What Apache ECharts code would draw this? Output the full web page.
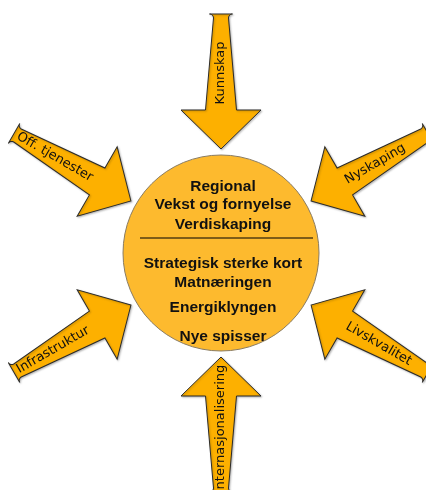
<!DOCTYPE html>
<html lang="no">
<head>
    <meta charset="UTF-8">
    <title>Regional vekst</title>
    <script src="https://cdn.jsdelivr.net/npm/echarts@6/dist/echarts.min.js"></script>
    <style>
        html, body { margin: 0; padding: 0; background: #fff; }
        #main { width: 426px; height: 490px; }
    </style>
</head>
<body>
<div id="main"></div>
<script>
    // innhold
    var arrowLabels = ['Kunnskap', 'Nyskaping', 'Livskvalitet', 'Internasjonalisering', 'Infrastruktur', 'Off. tjenester'];
    var arrowAngles = [90, 30, -30, -90, -150, 150];   // retning ut fra sentrum, grader
    var topLines = ['Regional', 'Vekst og fornyelse', 'Verdiskaping'];
    var bottomLines = ['Strategisk sterke kort', 'Matnæringen', 'Energiklyngen', 'Nye spisser'];

    // layout
    var CX = 221, CY = 253, R = 98;
    var TIP_DIST = 104, ARROW_LEN = 135, HEAD_LEN = 39, HEAD_HALF = 40, SHAFT_HALF = 15.5, CORNER = 4;
    var labelOffsets = [76, 74, 78, 72, 90, 88];
    var topY = [-66, -48, -28];
    var bottomY = [11, 30, 55, 84];
    var lineYOff = -15;

    var ARROW_COLOR = '#fdb000';
    var CIRCLE_COLOR = '#fdba2e';

    function arrowPoints() {
        var pts = [[0, 0], [-HEAD_LEN, -HEAD_HALF], [-HEAD_LEN, -SHAFT_HALF]];
        // avrundet hale
        var corners = [[-ARROW_LEN + CORNER, -SHAFT_HALF + CORNER, -Math.PI / 2, -Math.PI],
                       [-ARROW_LEN + CORNER, SHAFT_HALF - CORNER, -Math.PI, -1.5 * Math.PI]];
        corners.forEach(function (c) {
            for (var k = 0; k <= 6; k++) {
                var a = c[2] + (c[3] - c[2]) * k / 6;
                pts.push([c[0] + CORNER * Math.cos(a), c[1] - CORNER * Math.sin(a)]);
            }
        });
        pts.push([-HEAD_LEN, SHAFT_HALF], [-HEAD_LEN, HEAD_HALF]);
        return pts;
    }

    var centerData = [];
    topLines.forEach(function (t, i) { centerData.push([CX + 2, CY + topY[i]]); });
    bottomLines.forEach(function (t, i) { centerData.push([CX + 2, CY + bottomY[i]]); });
    var centerText = topLines.concat(bottomLines);

    var myChart = echarts.init(document.getElementById('main'));
    var option = {
        animation: false,
        backgroundColor: '#fff',
        grid: {left: 0, right: 0, top: 0, bottom: 0},
        xAxis: {type: 'value', min: 0, max: 426, show: false},
        yAxis: {type: 'value', min: 0, max: 490, inverse: true, show: false},
        series: [
            {
                // sirkel + skillelinje
                type: 'custom',
                data: [[CX, CY]],
                renderItem: function (params, api) {
                    var c = api.coord([api.value(0), api.value(1)]);
                    var edge = api.coord([api.value(0) + R, api.value(1)]);
                    var l1 = api.coord([CX - 81, CY + lineYOff]);
                    var l2 = api.coord([CX + 92, CY + lineYOff]);
                    return {
                        type: 'group',
                        children: [
                            {
                                type: 'circle',
                                shape: {cx: c[0], cy: c[1], r: edge[0] - c[0]},
                                style: {fill: CIRCLE_COLOR, stroke: '#8a7c62', lineWidth: 1}
                            },
                            {
                                type: 'line',
                                shape: {x1: l1[0], y1: l1[1], x2: l2[0], y2: l2[1]},
                                style: {stroke: '#000', lineWidth: 1}
                            }
                        ]
                    };
                }
            },
            {
                // tekst i sirkelen
                type: 'custom',
                data: centerData,
                renderItem: function (params, api) {
                    var p = api.coord([api.value(0), api.value(1)]);
                    return {
                        type: 'text',
                        x: p[0], y: p[1],
                        style: {
                            text: centerText[params.dataIndex],
                            fill: '#111',
                            font: 'bold 15.5px "Liberation Sans", Arial, sans-serif',
                            align: 'center',
                            verticalAlign: 'middle'
                        }
                    };
                }
            },
            {
                // piler
                type: 'custom',
                data: arrowAngles.map(function (a) { return [a]; }),
                renderItem: function (params, api) {
                    var ang = api.value(0) * Math.PI / 180;
                    var tip = api.coord([CX + TIP_DIST * Math.cos(ang), CY - TIP_DIST * Math.sin(ang)]);
                    var phi = ang + Math.PI;
                    var deg = ((phi * 180 / Math.PI) % 360 + 360) % 360;
                    var flip = deg > 90 && deg <= 270;
                    return {
                        type: 'group',
                        x: tip[0], y: tip[1],
                        rotation: phi,
                        children: [
                            {
                                type: 'polygon',
                                shape: {points: arrowPoints()},
                                style: {
                                    fill: ARROW_COLOR, stroke: '#2b2b2b', lineWidth: 1,
                                    shadowBlur: 2, shadowColor: 'rgba(0,0,0,0.25)', shadowOffsetX: 1, shadowOffsetY: 1
                                }
                            },
                            {
                                type: 'text',
                                x: -labelOffsets[params.dataIndex], y: 0,
                                rotation: flip ? Math.PI : 0,
                                style: {
                                    text: arrowLabels[params.dataIndex],
                                    fill: '#111',
                                    font: '13px "DejaVu Sans", sans-serif',
                                    align: 'center',
                                    verticalAlign: 'middle'
                                }
                            }
                        ]
                    };
                }
            }
        ]
    };
    myChart.setOption(option);
</script>
</body>
</html>
